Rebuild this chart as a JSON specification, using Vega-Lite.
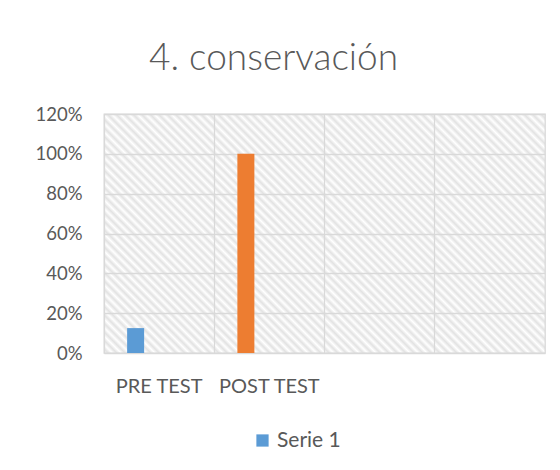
{
  "$schema": "https://vega.github.io/schema/vega-lite/v6.json",
  "width": 441,
  "height": 239,
  "autosize": {"type": "none"},
  "padding": {"left": 104, "top": 114, "right": 15, "bottom": 117},
  "background": "white",
  "title": {"text": "4. conservación", "font": "Lato", "fontSize": 37, "fontWeight": 300, "color": "#595959", "anchor": "middle", "dx": -51, "offset": -2, "baseline": "alphabetic"},
  "data": {"values": [
    {"prueba": "PRE TEST", "valor": 0.125, "serie": "Serie 1"},
    {"prueba": "POST TEST", "valor": 1.0, "serie": "Serie 1"}
  ]},
  "mark": {"type": "bar", "width": 17, "xOffset": -23.5},
  "encoding": {
    "x": {"field": "prueba", "type": "nominal", "sort": null,
      "scale": {"domain": ["PRE TEST", "POST TEST", "C", "D"], "paddingInner": 0, "paddingOuter": 0},
      "axis": {"title": null, "labelAngle": 0, "labelExpr": "(datum.value == 'C' || datum.value == 'D') ? '' : datum.value", "grid": true, "bandPosition": 0, "ticks": false, "domain": false, "labelPadding": 23, "labelFont": "Lato", "labelFontSize": 20, "labelColor": "#595959", "gridColor": "#d9d9d9", "gridWidth": 1.3}},
    "y": {"field": "valor", "type": "quantitative", "scale": {"domain": [0, 1.2]},
      "axis": {"title": null, "format": ".0%", "values": [0, 0.2, 0.4, 0.6, 0.8, 1, 1.2], "ticks": false, "domain": false, "labelPadding": 22, "labelFont": "Lato", "labelFontSize": 18.5, "labelColor": "#595959", "gridColor": "#d9d9d9", "gridWidth": 1.3}},
    "color": {"field": "prueba", "type": "nominal", "scale": {"domain": ["PRE TEST", "POST TEST"], "range": ["#5B9BD5", "#ED7D31"]},
      "legend": {"title": null, "values": ["PRE TEST"], "labelExpr": "'Serie 1'", "orient": "none", "legendX": 148, "legendY": 316, "padding": 0, "symbolType": "square", "symbolSize": 150, "symbolStrokeWidth": 0, "labelOffset": 4, "labelFont": "Lato", "labelFontSize": 21, "labelColor": "#595959", "direction": "horizontal"}}
  },
  "config": {
    "view": {"stroke": "#d9d9d9", "strokeWidth": 1.3,
      "fill": {"gradient": "linear", "x1": 0, "y1": 1, "x2": 1.192, "y2": 0.354, "stops": [
        {"offset": 0, "color": "#fff"}, {"offset": 0.00625, "color": "#e2e2e2"}, {"offset": 0.0125, "color": "#fff"}, {"offset": 0.01875, "color": "#e2e2e2"}, {"offset": 0.025, "color": "#fff"}, {"offset": 0.03125, "color": "#e2e2e2"}, {"offset": 0.0375, "color": "#fff"}, {"offset": 0.04375, "color": "#e2e2e2"},
        {"offset": 0.05, "color": "#fff"}, {"offset": 0.05625, "color": "#e2e2e2"}, {"offset": 0.0625, "color": "#fff"}, {"offset": 0.06875, "color": "#e2e2e2"}, {"offset": 0.075, "color": "#fff"}, {"offset": 0.08125, "color": "#e2e2e2"}, {"offset": 0.0875, "color": "#fff"}, {"offset": 0.09375, "color": "#e2e2e2"},
        {"offset": 0.1, "color": "#fff"}, {"offset": 0.10625, "color": "#e2e2e2"}, {"offset": 0.1125, "color": "#fff"}, {"offset": 0.11875, "color": "#e2e2e2"}, {"offset": 0.125, "color": "#fff"}, {"offset": 0.13125, "color": "#e2e2e2"}, {"offset": 0.1375, "color": "#fff"}, {"offset": 0.14375, "color": "#e2e2e2"},
        {"offset": 0.15, "color": "#fff"}, {"offset": 0.15625, "color": "#e2e2e2"}, {"offset": 0.1625, "color": "#fff"}, {"offset": 0.16875, "color": "#e2e2e2"}, {"offset": 0.175, "color": "#fff"}, {"offset": 0.18125, "color": "#e2e2e2"}, {"offset": 0.1875, "color": "#fff"}, {"offset": 0.19375, "color": "#e2e2e2"},
        {"offset": 0.2, "color": "#fff"}, {"offset": 0.20625, "color": "#e2e2e2"}, {"offset": 0.2125, "color": "#fff"}, {"offset": 0.21875, "color": "#e2e2e2"}, {"offset": 0.225, "color": "#fff"}, {"offset": 0.23125, "color": "#e2e2e2"}, {"offset": 0.2375, "color": "#fff"}, {"offset": 0.24375, "color": "#e2e2e2"},
        {"offset": 0.25, "color": "#fff"}, {"offset": 0.25625, "color": "#e2e2e2"}, {"offset": 0.2625, "color": "#fff"}, {"offset": 0.26875, "color": "#e2e2e2"}, {"offset": 0.275, "color": "#fff"}, {"offset": 0.28125, "color": "#e2e2e2"}, {"offset": 0.2875, "color": "#fff"}, {"offset": 0.29375, "color": "#e2e2e2"},
        {"offset": 0.3, "color": "#fff"}, {"offset": 0.30625, "color": "#e2e2e2"}, {"offset": 0.3125, "color": "#fff"}, {"offset": 0.31875, "color": "#e2e2e2"}, {"offset": 0.325, "color": "#fff"}, {"offset": 0.33125, "color": "#e2e2e2"}, {"offset": 0.3375, "color": "#fff"}, {"offset": 0.34375, "color": "#e2e2e2"},
        {"offset": 0.35, "color": "#fff"}, {"offset": 0.35625, "color": "#e2e2e2"}, {"offset": 0.3625, "color": "#fff"}, {"offset": 0.36875, "color": "#e2e2e2"}, {"offset": 0.375, "color": "#fff"}, {"offset": 0.38125, "color": "#e2e2e2"}, {"offset": 0.3875, "color": "#fff"}, {"offset": 0.39375, "color": "#e2e2e2"},
        {"offset": 0.4, "color": "#fff"}, {"offset": 0.40625, "color": "#e2e2e2"}, {"offset": 0.4125, "color": "#fff"}, {"offset": 0.41875, "color": "#e2e2e2"}, {"offset": 0.425, "color": "#fff"}, {"offset": 0.43125, "color": "#e2e2e2"}, {"offset": 0.4375, "color": "#fff"}, {"offset": 0.44375, "color": "#e2e2e2"},
        {"offset": 0.45, "color": "#fff"}, {"offset": 0.45625, "color": "#e2e2e2"}, {"offset": 0.4625, "color": "#fff"}, {"offset": 0.46875, "color": "#e2e2e2"}, {"offset": 0.475, "color": "#fff"}, {"offset": 0.48125, "color": "#e2e2e2"}, {"offset": 0.4875, "color": "#fff"}, {"offset": 0.49375, "color": "#e2e2e2"},
        {"offset": 0.5, "color": "#fff"}, {"offset": 0.50625, "color": "#e2e2e2"}, {"offset": 0.5125, "color": "#fff"}, {"offset": 0.51875, "color": "#e2e2e2"}, {"offset": 0.525, "color": "#fff"}, {"offset": 0.53125, "color": "#e2e2e2"}, {"offset": 0.5375, "color": "#fff"}, {"offset": 0.54375, "color": "#e2e2e2"},
        {"offset": 0.55, "color": "#fff"}, {"offset": 0.55625, "color": "#e2e2e2"}, {"offset": 0.5625, "color": "#fff"}, {"offset": 0.56875, "color": "#e2e2e2"}, {"offset": 0.575, "color": "#fff"}, {"offset": 0.58125, "color": "#e2e2e2"}, {"offset": 0.5875, "color": "#fff"}, {"offset": 0.59375, "color": "#e2e2e2"},
        {"offset": 0.6, "color": "#fff"}, {"offset": 0.60625, "color": "#e2e2e2"}, {"offset": 0.6125, "color": "#fff"}, {"offset": 0.61875, "color": "#e2e2e2"}, {"offset": 0.625, "color": "#fff"}, {"offset": 0.63125, "color": "#e2e2e2"}, {"offset": 0.6375, "color": "#fff"}, {"offset": 0.64375, "color": "#e2e2e2"},
        {"offset": 0.65, "color": "#fff"}, {"offset": 0.65625, "color": "#e2e2e2"}, {"offset": 0.6625, "color": "#fff"}, {"offset": 0.66875, "color": "#e2e2e2"}, {"offset": 0.675, "color": "#fff"}, {"offset": 0.68125, "color": "#e2e2e2"}, {"offset": 0.6875, "color": "#fff"}, {"offset": 0.69375, "color": "#e2e2e2"},
        {"offset": 0.7, "color": "#fff"}, {"offset": 0.70625, "color": "#e2e2e2"}, {"offset": 0.7125, "color": "#fff"}, {"offset": 0.71875, "color": "#e2e2e2"}, {"offset": 0.725, "color": "#fff"}, {"offset": 0.73125, "color": "#e2e2e2"}, {"offset": 0.7375, "color": "#fff"}, {"offset": 0.74375, "color": "#e2e2e2"},
        {"offset": 0.75, "color": "#fff"}, {"offset": 0.75625, "color": "#e2e2e2"}, {"offset": 0.7625, "color": "#fff"}, {"offset": 0.76875, "color": "#e2e2e2"}, {"offset": 0.775, "color": "#fff"}, {"offset": 0.78125, "color": "#e2e2e2"}, {"offset": 0.7875, "color": "#fff"}, {"offset": 0.79375, "color": "#e2e2e2"},
        {"offset": 0.8, "color": "#fff"}, {"offset": 0.80625, "color": "#e2e2e2"}, {"offset": 0.8125, "color": "#fff"}, {"offset": 0.81875, "color": "#e2e2e2"}, {"offset": 0.825, "color": "#fff"}, {"offset": 0.83125, "color": "#e2e2e2"}, {"offset": 0.8375, "color": "#fff"}, {"offset": 0.84375, "color": "#e2e2e2"},
        {"offset": 0.85, "color": "#fff"}, {"offset": 0.85625, "color": "#e2e2e2"}, {"offset": 0.8625, "color": "#fff"}, {"offset": 0.86875, "color": "#e2e2e2"}, {"offset": 0.875, "color": "#fff"}, {"offset": 0.88125, "color": "#e2e2e2"}, {"offset": 0.8875, "color": "#fff"}, {"offset": 0.89375, "color": "#e2e2e2"},
        {"offset": 0.9, "color": "#fff"}, {"offset": 0.90625, "color": "#e2e2e2"}, {"offset": 0.9125, "color": "#fff"}, {"offset": 0.91875, "color": "#e2e2e2"}, {"offset": 0.925, "color": "#fff"}, {"offset": 0.93125, "color": "#e2e2e2"}, {"offset": 0.9375, "color": "#fff"}, {"offset": 0.94375, "color": "#e2e2e2"},
        {"offset": 0.95, "color": "#fff"}, {"offset": 0.95625, "color": "#e2e2e2"}, {"offset": 0.9625, "color": "#fff"}, {"offset": 0.96875, "color": "#e2e2e2"}, {"offset": 0.975, "color": "#fff"}, {"offset": 0.98125, "color": "#e2e2e2"}, {"offset": 0.9875, "color": "#fff"}, {"offset": 0.99375, "color": "#e2e2e2"},
        {"offset": 1, "color": "#fff"}
      ]}
    }
  }
}
